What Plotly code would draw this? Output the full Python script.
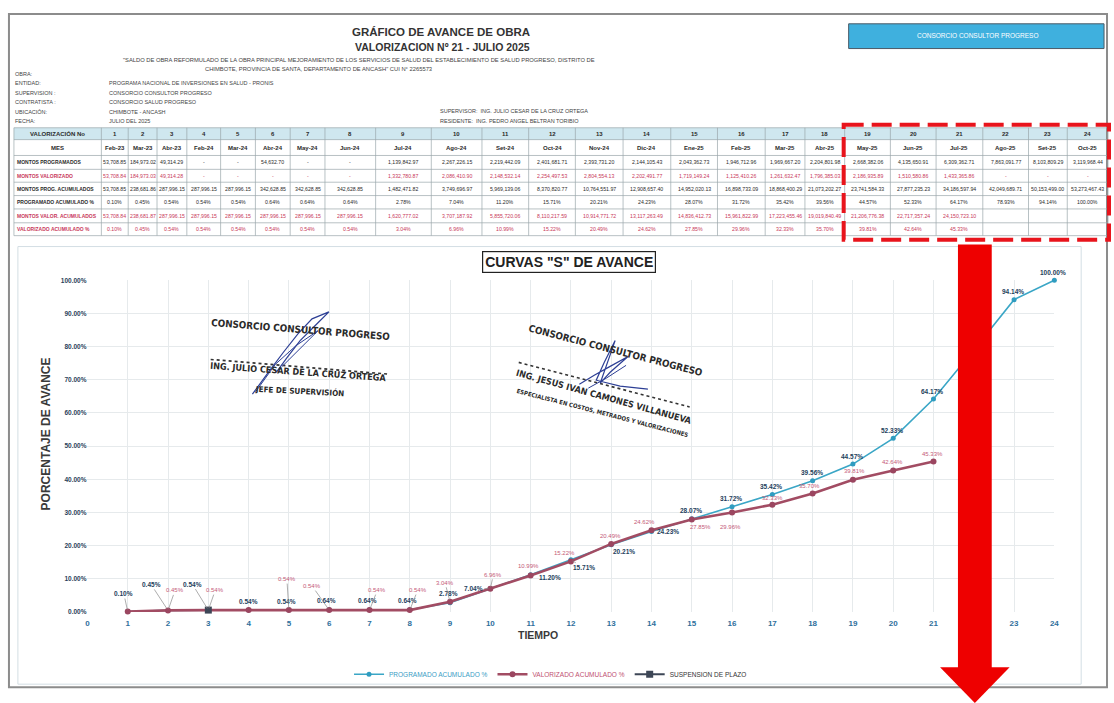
import plotly.graph_objects as go

W, H = 1114, 703

# ---------------- DATA ----------------
valorizacion_no = list(range(1, 25))
meses = ["Feb-23", "Mar-23", "Abr-23", "Feb-24", "Mar-24", "Abr-24", "May-24", "Jun-24",
         "Jul-24", "Ago-24", "Set-24", "Oct-24", "Nov-24", "Dic-24", "Ene-25", "Feb-25",
         "Mar-25", "Abr-25", "May-25", "Jun-25", "Jul-25", "Ago-25", "Set-25", "Oct-25"]
montos_programados = ["53,708.85", "184,973.02", "49,314.29", "-", "-", "54,632.70", "-", "-",
                      "1,139,842.97", "2,267,226.15", "2,219,442.09", "2,401,681.71", "2,393,731.20",
                      "2,144,105.43", "2,043,362.73", "1,946,712.96", "1,969,667.20", "2,204,801.98",
                      "2,668,382.06", "4,135,650.91", "6,309,362.71", "7,863,091.77", "8,103,809.29",
                      "3,119,968.44"]
montos_valorizado = ["53,708.84", "184,973.03", "49,314.28", "-", "-", "-", "-", "-",
                     "1,332,780.87", "2,086,410.90", "2,148,532.14", "2,254,497.53", "2,804,554.13",
                     "2,202,491.77", "1,719,149.24", "1,125,410.26", "1,261,632.47", "1,796,385.03",
                     "2,186,935.89", "1,510,580.86", "1,433,365.86", "-", "-", "-"]
montos_prog_acum = ["53,708.85", "238,681.86", "287,996.15", "287,996.15", "287,996.15", "342,628.85",
                    "342,628.85", "342,628.85", "1,482,471.82", "3,749,696.97", "5,969,139.06",
                    "8,370,820.77", "10,764,551.97", "12,908,657.40", "14,952,020.13", "16,898,733.09",
                    "18,868,400.29", "21,073,202.27", "23,741,584.33", "27,877,235.23", "34,186,597.94",
                    "42,049,689.71", "50,153,499.00", "53,273,467.43"]
programado_acum_pct = [0.10, 0.45, 0.54, 0.54, 0.54, 0.64, 0.64, 0.64, 2.78, 7.04, 11.20, 15.71,
                       20.21, 24.23, 28.07, 31.72, 35.42, 39.56, 44.57, 52.33, 64.17, 78.93, 94.14, 100.00]
montos_valor_acum = ["53,708.84", "238,681.87", "287,996.15", "287,996.15", "287,996.15", "287,996.15",
                     "287,996.15", "287,996.15", "1,620,777.02", "3,707,187.92", "5,855,720.06",
                     "8,110,217.59", "10,914,771.72", "13,117,263.49", "14,836,412.73", "15,961,822.99",
                     "17,223,455.46", "19,019,840.49", "21,206,776.38", "22,717,357.24", "24,150,723.10",
                     "", "", ""]
valorizado_acum_pct = [0.10, 0.45, 0.54, 0.54, 0.54, 0.54, 0.54, 0.54, 3.04, 6.96, 10.99, 15.22,
                       20.49, 24.62, 27.85, 29.96, 32.33, 35.70, 39.81, 42.64, 45.33]
suspension_x = [3]
suspension_y = [0.54]
row_names = ["VALORIZACIÓN No", "MES", "MONTOS PROGRAMADOS", "MONTOS VALORIZADO",
             "MONTOS PROG. ACUMULADOS", "PROGRAMADO ACUMULADO %", "MONTOS VALOR. ACUMULADOS",
             "VALORIZADO ACUMULADO %"]
y_ticks = [0, 10, 20, 30, 40, 50, 60, 70, 80, 90, 100]
x_ticks = list(range(0, 25))

# ---------------- HELPERS (layout geometry) ----------------
def px(x):
    return x / W

def py(y):
    return 1 - y / H

fig = go.Figure()
annotations = []
shapes = []

def txt(x, y, text, size=6, color="#333", bold=False, xanchor="left", family="Liberation Sans, Arial",
        angle=0):
    annotations.append(dict(x=px(x), y=py(y), xref="paper", yref="paper",
                            text=f"<b>{text}</b>" if bold else text, showarrow=False,
                            xanchor=xanchor, yanchor="middle", textangle=angle,
                            font=dict(size=size, color=color, family=family)))

def rect(x0, y0, x1, y1, **kw):
    shapes.append(dict(type="rect", xref="paper", yref="paper", x0=px(x0), x1=px(x1),
                       y0=py(y0), y1=py(y1), **kw))

def line(x0, y0, x1, y1, **kw):
    shapes.append(dict(type="line", xref="paper", yref="paper", x0=px(x0), x1=px(x1),
                       y0=py(y0), y1=py(y1), **kw))

def path(points, close=False, **kw):
    d = "M " + " L ".join(f"{px(a):.5f},{py(b):.5f}" for a, b in points)
    if close:
        d += " Z"
    shapes.append(dict(type="path", xref="paper", yref="paper", path=d, **kw))

# ---------------- TABLE (grid + cell texts built from the data lists) ----------------
col_bounds = [12, 100, 127, 156, 186, 220, 255, 290, 325, 376, 432, 483, 530, 577, 625, 673, 720,
              768, 808, 848, 894, 940, 987, 1033, 1072, 1113]
row_bounds = [125, 137, 153, 167, 180, 193.5, 207, 221, 234]
dark = "#2b2b2b"
redt = "#c8385a"
row_colors = [dark, dark, dark, redt, dark, dark, redt, redt]

prog_pct_txt = [f"{v:.2f}%" for v in programado_acum_pct]
val_pct_txt = [f"{v:.2f}%" for v in valorizado_acum_pct] + [""] * (24 - len(valorizado_acum_pct))
table_rows = [[str(n) for n in valorizacion_no], meses, montos_programados, montos_valorizado,
              montos_prog_acum, prog_pct_txt, montos_valor_acum, val_pct_txt]

rect(col_bounds[0], row_bounds[0], col_bounds[-1], row_bounds[1], fillcolor="#cfe7ef",
     line=dict(width=0), layer="below")
for xb in col_bounds:
    line(xb, row_bounds[0], xb, row_bounds[-1], line=dict(color="#9aa6aa", width=0.7))
for yb in row_bounds:
    line(col_bounds[0], yb, col_bounds[-1], yb, line=dict(color="#9aa6aa", width=0.7))

for r, (name, vals) in enumerate(zip(row_names, table_rows)):
    yc = (row_bounds[r] + row_bounds[r + 1]) / 2
    bold_row = r < 2
    if r < 2:
        txt((col_bounds[0] + col_bounds[1]) / 2, yc, name, 6, row_colors[r], True, "center")
    else:
        txt(col_bounds[0] + 1.5, yc, name, 5.0, row_colors[r], True, "left")
    for c, v in enumerate(vals):
        if v == "":
            continue
        xc = (col_bounds[c + 1] + col_bounds[c + 2]) / 2
        txt(xc, yc, v, 6 if bold_row else 5.2, row_colors[r], bold_row, "center")

# ---------------- CHART TRACES ----------------
fig.add_trace(go.Scatter(
    x=valorizacion_no, y=programado_acum_pct, mode="lines+markers",
    name="<span style='color:#3a9cc4'>PROGRAMADO ACUMULADO %</span>",
    line=dict(color="#3aa6c6", width=1.6), marker=dict(size=5, color="#2f9cc0"),
    cliponaxis=False))
fig.add_trace(go.Scatter(
    x=valorizacion_no[:len(valorizado_acum_pct)], y=valorizado_acum_pct, mode="lines+markers",
    name="<span style='color:#c05070'>VALORIZADO ACUMULADO %</span>",
    line=dict(color="#a24c63", width=2.6), marker=dict(size=6, color="#9b4660"),
    cliponaxis=False))
fig.add_trace(go.Scatter(
    x=suspension_x, y=suspension_y, mode="lines+markers",
    name="<span style='color:#333'>SUSPENSION DE PLAZO</span>",
    line=dict(color="#3d4656", width=2), marker=dict(size=7, symbol="square", color="#3d4656"),
    cliponaxis=False))

# Data labels (offsets in px; None = hidden under the arrow)
prog_lbl = {1: (-4, -18, True), 2: (-17, -26, True), 3: (-16, -26, True), 4: (0, -9, False),
            5: (-2, -9, False), 6: (-3, -9, False), 7: (-2, -9, False), 8: (-2, -9, False),
            9: (-2, -9, False), 10: (-17, 0, True), 11: (19, 3, False), 12: (13, 8, True),
            13: (13, 7, False), 14: (17, 0, False), 22: None}
val_lbl = {2: (7, -20, True), 3: (7, -20, True), 5: (-2, -31, True), 6: (-17, -24, True),
           7: (8, -20, True), 8: (8, -20, True), 9: (-5, -19, True), 10: (3, -14, True),
           11: (-2, -9, False), 12: (-6, -8, False), 13: (-1, -8, False), 14: (-7, -8, False),
           15: (9, 7, False), 16: (-2, 14, False), 17: (0, -7, False), 18: (-3, -7, False),
           19: (2, -9, False), 20: (-1, -8, False), 21: (-1, -8, False)}

def add_label(x, y, text, off, color, size, bold):
    dx, dy, arrow = off
    t = f"<b>{text}</b>" if bold else text
    if arrow:
        annotations.append(dict(x=x, y=y, xref="x", yref="y", text=t, showarrow=True,
                                ax=dx, ay=dy, arrowhead=0, arrowwidth=0.7, arrowcolor="#8a8a8a",
                                standoff=2, font=dict(size=size, color=color,
                                                      family="Liberation Sans, Arial")))
    else:
        annotations.append(dict(x=x, y=y, xref="x", yref="y", text=t, showarrow=False,
                                xshift=dx, yshift=-dy,
                                font=dict(size=size, color=color, family="Liberation Sans, Arial")))

for i, v in enumerate(programado_acum_pct):
    n = i + 1
    off = prog_lbl.get(n, (-1, -8, False))
    if off is not None:
        add_label(n, v, f"{v:.2f}%", off, "#243e5c", 6.5, True)
for i, v in enumerate(valorizado_acum_pct):
    n = i + 1
    if n in val_lbl:
        add_label(n, v, f"{v:.2f}%", val_lbl[n], "#c45a78", 6, False)

# ---------------- HEADER TEXTS ----------------
txt(442, 28, "GRÁFICO DE AVANCE DE OBRA", 11.5, "#333", True, "center")
txt(443, 43, "VALORIZACION Nº 21 - JULIO 2025", 10.5, "#333", True, "center")
txt(359, 57, "\"SALDO DE OBRA REFORMULADO DE LA OBRA PRINCIPAL MEJORAMIENTO DE LOS SERVICIOS DE SALUD DEL ESTABLECIMIENTO DE SALUD PROGRESO, DISTRITO DE",
    5.8, "#444", False, "center")
txt(318, 66, "CHIMBOTE, PROVINCIA DE SANTA, DEPARTAMENTO DE ANCASH\" CUI N° 2265573", 5.8, "#444", False, "center")
for t, yy in [("OBRA:", 71), ("ENTIDAD:", 80), ("SUPERVISION :", 90), ("CONTRATISTA :", 99),
              ("UBICACIÓN:", 109), ("FECHA:", 118)]:
    txt(11, yy, t, 5.5, "#444")
for t, yy in [("PROGRAMA NACIONAL DE INVERSIONES EN SALUD - PRONIS", 80),
              ("CONSORCIO CONSULTOR PROGRESO", 90), ("CONSORCIO SALUD PROGRESO", 99),
              ("CHIMBOTE - ANCASH", 109), ("JULIO DEL 2025", 118)]:
    txt(106, yy, t, 5.5, "#444")
txt(439, 108, "SUPERVISOR:  ING. JULIO CESAR DE LA CRUZ ORTEGA", 5.5, "#444")
txt(439, 118, "RESIDENTE:  ING. PEDRO ANGEL BELTRAN TORIBIO", 5.5, "#444")
txt(982, 32, "CONSORCIO CONSULTOR PROGRESO", 6.5, "white", False, "center")

# Chart title
annotations.append(dict(x=px(571), y=py(261), xref="paper", yref="paper",
                        text="<b>CURVAS \"S\" DE AVANCE</b>", showarrow=False,
                        font=dict(size=14, color="#222", family="Liberation Sans, Arial"),
                        bordercolor="#222", borderwidth=1.2, borderpad=2, bgcolor="white"))
# Axis titles
txt(44, 434, "PORCENTAJE DE AVANCE", 12, "#3a3a3a", True, "center", angle=-90)
txt(539, 637, "TIEMPO", 10.5, "#3a3a3a", True, "center")

# Stamps
stamp_font = "DejaVu Sans Condensed, Liberation Sans Narrow, sans-serif"
txt(301, 329, "CONSORCIO CONSULTOR PROGRESO", 9.8, "#2a2a2a", True, "center", stamp_font, 4.5)
txt(298, 372, "ING. JULIO CESAR DE LA CRUZ ORTEGA", 9, "#2a2a2a", True, "center", stamp_font, 4)
txt(299, 390, "JEFE DE SUPERVISIÓN", 8, "#2a2a2a", True, "center", stamp_font, 3)
txt(618, 350, "CONSORCIO CONSULTOR PROGRESO", 9.8, "#2a2a2a", True, "center", stamp_font, 14.5)
txt(606, 397, "ING. JESUS IVAN CAMONES VILLANUEVA", 9, "#2a2a2a", True, "center", stamp_font, 15.5)
txt(604, 413, "ESPECIALISTA EN COSTOS, METRADOS Y VALORIZACIONES", 6, "#2a2a2a", True, "center", stamp_font, 14.5)

# ---------------- SHAPES ----------------
rect(7, 10, 1112, 690, line=dict(color="#8c8c8c", width=2), layer="below")
rect(16, 245, 1086, 687, line=dict(color="#d3dee4", width=1), layer="below")
rect(852, 20, 1109, 45, fillcolor="#3fb0de", line=dict(color="#4a5a66", width=1), layer="below")
line(210, 359, 390, 374, line=dict(color="#333", width=1.6, dash="dot"))
line(520, 362, 692, 407, line=dict(color="#333", width=1.6, dash="dot"))
path([(252, 394), (268, 372), (283, 352), (298, 333), (312, 318), (329, 311),
      (318, 322), (300, 340), (287, 357), (276, 372)], line=dict(color="#2d3f95", width=1.2))
path([(255, 392), (275, 364), (296, 345), (318, 330), (305, 343), (282, 366)],
     line=dict(color="#2d3f95", width=1))
path([(581, 384), (596, 375), (612, 366), (630, 356), (612, 372), (602, 383), (617, 340),
      (606, 362), (598, 380), (622, 386), (650, 389)], line=dict(color="#2d3f95", width=1.2))
path([(590, 388), (608, 378), (628, 365)], line=dict(color="#2d3f95", width=1))
rect(847, 122, 1114, 238, line=dict(color="#e8141c", width=4, dash="20px,8px"))
rect(962, 243, 996, 672, fillcolor="#ee0000", line=dict(width=0))
path([(944, 670), (1014, 670), (979, 706)], close=True, fillcolor="#ee0000", line=dict(width=0))

fig.update_layout(
    width=W, height=H, margin=dict(l=0, r=0, t=0, b=0),
    paper_bgcolor="white", plot_bgcolor="white",
    showlegend=True,
    legend=dict(orientation="h", x=px(552), xanchor="center", y=py(677), yanchor="middle",
                font=dict(size=6.5, family="Liberation Sans, Arial"), itemwidth=30,
                bgcolor="rgba(0,0,0,0)"),
    xaxis=dict(domain=[px(86), px(1059)], range=[0, 24], tickvals=x_ticks,
               ticktext=[f"<b>{t}</b>" for t in x_ticks], showgrid=True, gridcolor="#e6eaec",
               gridwidth=1, zeroline=False, showline=False, ticks="", ticklabelstandoff=5,
               tickfont=dict(size=8, color="#2f6f9c", family="Liberation Sans, Arial"),
               fixedrange=True),
    yaxis=dict(domain=[py(614), py(279)], range=[0, 100], tickvals=y_ticks,
               ticktext=[f"<b>{t:.2f}%</b>" for t in y_ticks], showgrid=True,
               gridcolor="#e6eaec", gridwidth=1, zeroline=False, showline=False, ticks="",
               tickfont=dict(size=6.5, color="#2a3f5a", family="Liberation Sans, Arial"),
               fixedrange=True),
    annotations=annotations,
    shapes=shapes,
)

fig.write_html("out.html", config={"displayModeBar": False},
               post_script="document.body.style.margin='0';document.body.style.overflow='hidden';")
